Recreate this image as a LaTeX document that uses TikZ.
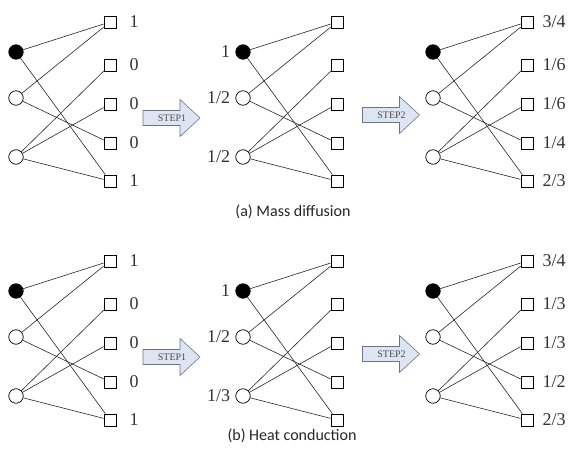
\documentclass[tikz,border=0pt]{standalone}
\usepackage{fontspec}
\setmainfont{Liberation Serif}
\newfontfamily\capfont{Carlito}
\definecolor{arrfill}{rgb}{0.87,0.90,0.95}
\definecolor{arrdraw}{rgb}{0.42,0.46,0.52}
\tikzset{
  vtx/.style={circle, draw, line width=0.7pt, minimum size=14.5pt, inner sep=0pt, fill=white},
  vfull/.style={vtx, fill=black},
  obj/.style={rectangle, draw, line width=0.7pt, minimum size=12pt, inner sep=0pt, fill=white},
  edge/.style={draw=black!85, line width=0.6pt},
  val/.style={font=\fontsize{18}{18}\selectfont, inner sep=0pt, text=black!80},
  arrowbody/.style={draw=arrdraw, fill=arrfill, line width=0.6pt, line join=miter},
  steptext/.style={font=\fontsize{10}{10}\selectfont, inner sep=0pt, text=black!70},
  caption/.style={font=\capfont\fontsize{16}{16}\selectfont, inner sep=0pt, text=black!85}
}
\newcommand\mypanel[3]{%
  \node[vfull] (#1c1) at (#2+16,#3+52) {};
  \node[vtx] (#1c2) at (#2+16,#3+98) {};
  \node[vtx] (#1c3) at (#2+16,#3+157) {};
  \node[obj] (#1s1) at (#2+110,#3+22) {};
  \node[obj] (#1s2) at (#2+110,#3+65) {};
  \node[obj] (#1s3) at (#2+110,#3+104) {};
  \node[obj] (#1s4) at (#2+110,#3+143) {};
  \node[obj] (#1s5) at (#2+110,#3+181) {};
  \draw[edge] (#1c1) -- (#1s1);
  \draw[edge] (#1c1) -- (#1s5);
  \draw[edge] (#1c2) -- (#1s1);
  \draw[edge] (#1c2) -- (#1s4);
  \draw[edge] (#1c3) -- (#1s2);
  \draw[edge] (#1c3) -- (#1s3);
  \draw[edge] (#1c3) -- (#1s5);
}
% #1 name, #2 cx, #3 cy, #4 text
\newcommand\mystep[4]{%
  \draw[arrowbody] (#2-28.5,#3-7.5) -- (#2+8.5,#3-7.5) -- (#2+8.5,#3-18.5)
    -- (#2+28.5,#3) -- (#2+8.5,#3+18.5) -- (#2+8.5,#3+7.5) -- (#2-28.5,#3+7.5) -- cycle;
  \node[steptext] (#1) at (#2+0.5,#3) {#4};
}
\begin{document}
\begin{tikzpicture}[x=1pt,y=-1pt]
\useasboundingbox (0,0) rectangle (576,455);
% top row
\mypanel{a}{0}{0}
\mypanel{b}{227}{0}
\mypanel{c}{417}{0}
% bottom row
\mypanel{d}{0}{239}
\mypanel{e}{227}{239}
\mypanel{f}{417}{239}
% right labels panel a
\node[val, anchor=west, xshift=13pt] (la1) at (as1.east) {1};
\node[val, anchor=west, xshift=13pt] (la2) at (as2.east) {0};
\node[val, anchor=west, xshift=13pt] (la3) at (as3.east) {0};
\node[val, anchor=west, xshift=13pt] (la4) at (as4.east) {0};
\node[val, anchor=west, xshift=13pt] (la5) at (as5.east) {1};
% left labels panel b
\node[val, anchor=east, xshift=-5pt] (lb1) at (bc1.west) {1};
\node[val, anchor=east, xshift=-5pt] (lb2) at (bc2.west) {1/2};
\node[val, anchor=east, xshift=-5pt] (lb3) at (bc3.west) {1/2};
% right labels panel c
\node[val, anchor=west, xshift=9pt] (lc1) at (cs1.east) {3/4};
\node[val, anchor=west, xshift=9pt] (lc2) at (cs2.east) {1/6};
\node[val, anchor=west, xshift=9pt] (lc3) at (cs3.east) {1/6};
\node[val, anchor=west, xshift=9pt] (lc4) at (cs4.east) {1/4};
\node[val, anchor=west, xshift=9pt] (lc5) at (cs5.east) {2/3};
% right labels panel d
\node[val, anchor=west, xshift=13pt] (ld1) at (ds1.east) {1};
\node[val, anchor=west, xshift=13pt] (ld2) at (ds2.east) {0};
\node[val, anchor=west, xshift=13pt] (ld3) at (ds3.east) {0};
\node[val, anchor=west, xshift=13pt] (ld4) at (ds4.east) {0};
\node[val, anchor=west, xshift=13pt] (ld5) at (ds5.east) {1};
% left labels panel e
\node[val, anchor=east, xshift=-5pt] (le1) at (ec1.west) {1};
\node[val, anchor=east, xshift=-5pt] (le2) at (ec2.west) {1/2};
\node[val, anchor=east, xshift=-5pt] (le3) at (ec3.west) {1/3};
% right labels panel f
\node[val, anchor=west, xshift=9pt] (lf1) at (fs1.east) {3/4};
\node[val, anchor=west, xshift=9pt] (lf2) at (fs2.east) {1/3};
\node[val, anchor=west, xshift=9pt] (lf3) at (fs3.east) {1/3};
\node[val, anchor=west, xshift=9pt] (lf4) at (fs4.east) {1/2};
\node[val, anchor=west, xshift=9pt] (lf5) at (fs5.east) {2/3};
% step arrows
\mystep{st1a}{171.5}{118}{STEP1}
\mystep{st2a}{391}{115}{STEP2}
\mystep{st1b}{171.5}{357}{STEP1}
\mystep{st2b}{391}{354}{STEP2}
% captions
\node[caption] (capa) at (293,212) {(a) Mass diffusion};
\node[caption] (capb) at (292,436) {(b) Heat conduction};
\end{tikzpicture}
\end{document}
